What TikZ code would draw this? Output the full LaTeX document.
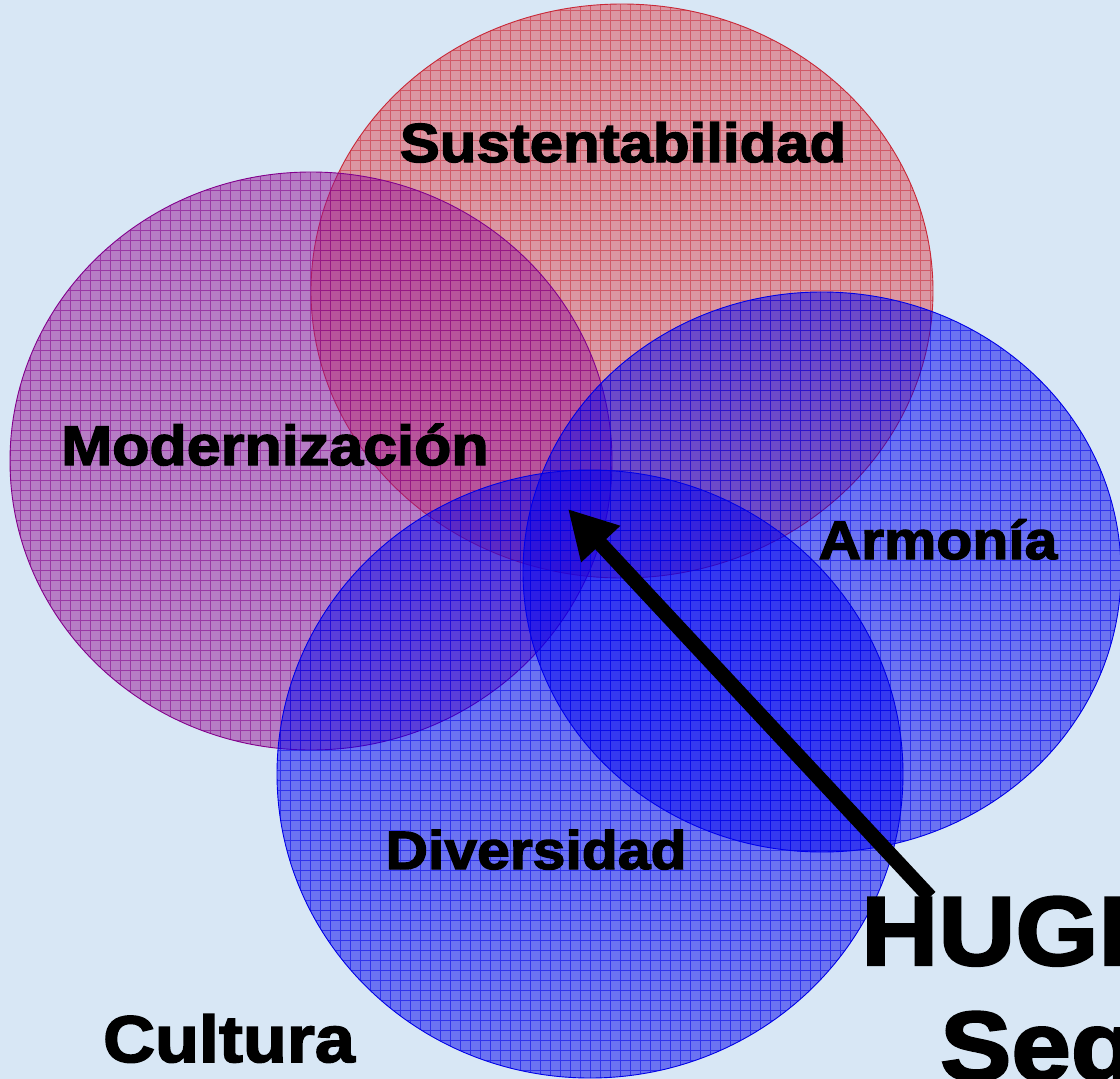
\documentclass[tikz,border=0pt]{standalone}
\usepackage{fontspec}
\newfontfamily\heavy{Liberation Sans}[BoldFeatures={FakeBold=2.5,FakeStretch=1.09}]
\usetikzlibrary{arrows.meta}
\definecolor{bg}{RGB}{216,231,245}
\definecolor{redfill}{RGB}{222,70,80}
\definecolor{redline}{RGB}{200,40,55}
\definecolor{purfill}{RGB}{150,20,150}
\definecolor{purline}{RGB}{130,0,140}
\definecolor{blufill}{RGB}{0,0,240}
\definecolor{bluline}{RGB}{0,0,230}
\newcommand\gridell[5]{%
  \begin{scope}
    \clip (#1,#2) ellipse [x radius=#3, y radius=#4];
    \fill[#5fill, fill opacity=0.5] (#1-#3,#2-#4) rectangle (#1+#3,#2+#4);
    \draw[#5line, line width=0.7pt, opacity=0.55, step=10pt] (#1-#3-10,#2-#4-10) grid (#1+#3+10,#2+#4+10);
  \end{scope}
  \draw[#5line, line width=0.9pt] (#1,#2) ellipse [x radius=#3, y radius=#4];
}
\tikzset{
  lbl/.style={font=\heavy\bfseries\fontsize{#1}{#1}\selectfont, text=black, inner sep=0pt, anchor=base},
  lbl/.default=55,
  big/.style={font=\heavy\bfseries\fontsize{98}{98}\selectfont, text=black, inner sep=0pt, anchor=base west},
  bigarrow/.style={line width=15pt, -{Triangle[length=48pt,width=50pt]}, black}
}
\begin{document}
\begin{tikzpicture}[x=1pt,y=-1pt]
\useasboundingbox (0,0) rectangle (1120,1079);
\fill[bg] (0,0) rectangle (1120,1079);
\clip (0,0) rectangle (1120,1079);
\gridell{622}{291}{311}{287}{red}
\gridell{311}{461}{301}{289}{pur}
\gridell{822}{572}{299}{280}{blu}
\gridell{590}{774}{313}{304}{blu}
\node[lbl=55] (sust) at (623,162) {Sustentabilidad};
\node[lbl=56] (mod) at (275,465) {Modernización};
\node[lbl=54] (arm) at (938,559) {Armonía};
\node[lbl=54] (div) at (536,869) {Diversidad};
\node[lbl=66] (cul) at (229,1062) {Cultura};
\node[big] (hugi) at (861,965) {HUGI};
\node[big] (seg) at (940,1080) {Seg};
\coordinate (tail) at (930,897);
\coordinate (tip) at (568,509);
\draw[bigarrow] (tail) -- (tip);
\end{tikzpicture}
\end{document}
